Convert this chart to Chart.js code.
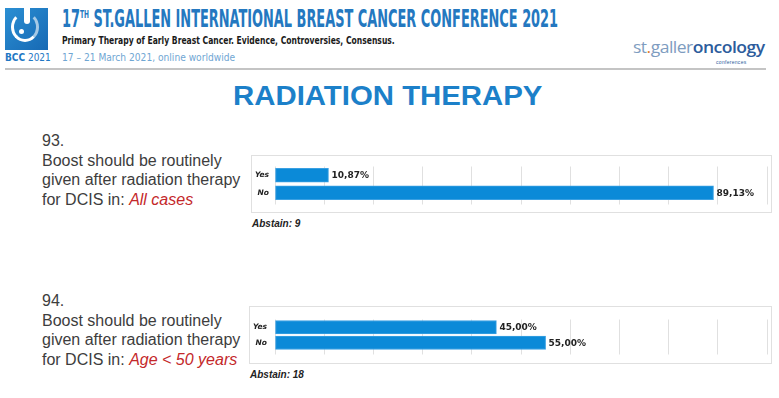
<!DOCTYPE html>
<html>
<head>
<meta charset="utf-8">
<script src="https://cdn.jsdelivr.net/npm/chart.js@4"></script>
<style>
  body { margin: 0; width: 779px; height: 398px; background: #fff; position: relative; overflow: hidden;
         font-family: 'Liberation Sans', Arial, sans-serif; }
  .abs { position: absolute; white-space: nowrap; }
  .cond { font-family: 'DejaVu Sans Condensed', 'DejaVu Sans', sans-serif; font-stretch: condensed; }
  .box { position: absolute; border: 1px solid #e0e0e0; box-sizing: border-box; }
  .question { font-size: 16px; line-height: 19.5px; color: #3d3d3d; }
  .question em { color: #c4282a; }
  .abstain { font-size: 10px; font-weight: bold; font-style: italic; color: #222; }
</style>
</head>
<body>

<!-- conference header -->
<div class="abs" style="left:5px;top:8px;width:43px;height:42px;background:linear-gradient(135deg,#2b8fd3,#1769b4);overflow:hidden;">
  <div style="position:absolute;left:6px;top:4px;width:28px;height:30px;border-radius:50%;border:3px solid #fff;border-top-color:transparent;border-right-color:rgba(255,255,255,0.6);box-sizing:border-box;"></div>
  <div style="position:absolute;left:19px;top:0;width:6px;height:16px;background:#fff;border-radius:0 0 3px 3px;"></div>
  <div style="position:absolute;left:14px;top:21px;width:5px;height:5px;background:#fff;border-radius:50%;"></div>
</div>
<div class="abs cond" style="left:5px;top:52px;font-size:10px;color:#1f78c4;"><b>BCC</b> 2021</div>

<div class="abs cond fit" data-w="496" style="left:62px;top:5px;font-size:24px;font-weight:bold;color:#2478c0;">17<sup style="font-size:11px;">TH</sup> ST.GALLEN INTERNATIONAL BREAST CANCER CONFERENCE 2021</div>
<div class="abs cond fit" data-w="333" style="left:62px;top:34px;font-size:11px;font-weight:bold;color:#1a1a1a;">Primary Therapy of Early Breast Cancer. Evidence, Controversies, Consensus.</div>
<div class="abs cond fit" data-w="173" style="left:62px;top:51px;font-size:11px;color:#6fa6d3;">17 – 21 March 2021, online worldwide</div>

<div class="abs fit" data-w="132" style="left:633px;top:38px;line-height:17px;font-family:'Open Sans',sans-serif;font-size:17px;letter-spacing:-0.5px;"><span style="color:#7e9cc0;">st</span><span style="color:#e07a2a;">.</span><span style="color:#7e9cc0;">galler</span><span style="color:#2c5c9c;font-weight:600;">oncology</span></div>
<div class="abs" style="left:716px;top:60px;font-size:5px;line-height:5px;color:#2c5c9c;letter-spacing:0.3px;">conferences</div>

<div class="abs" style="left:5px;top:68px;width:761px;height:2px;background:#c4c4c4;"></div>

<div class="abs fit" data-w="310" style="left:233px;top:81px;font-size:27px;font-weight:bold;color:#1c80c9;">RADIATION THERAPY</div>

<!-- question 93 -->
<div class="abs question" style="left:42px;top:131px;">93.<br>Boost should be routinely<br>given after radiation therapy<br>for DCIS in: <em>All cases</em></div>
<div class="box" style="left:251px;top:155px;width:521px;height:58px;"><canvas id="q93"></canvas></div>
<div class="abs abstain" style="left:252px;top:218px;">Abstain: 9</div>

<!-- question 94 -->
<div class="abs question" style="left:42px;top:291px;">94.<br>Boost should be routinely<br>given after radiation therapy<br>for DCIS in: <em>Age &lt; 50 years</em></div>
<div class="box" style="left:249px;top:306px;width:523px;height:58px;"><canvas id="q94"></canvas></div>
<div class="abs abstain" style="left:250px;top:369px;">Abstain: 18</div>

<script>
// answers and vote shares (%) per question
const answers   = ['Yes', 'No'];
const q93Values = [10.87, 89.13];
const q94Values = [45.00, 55.00];
const axisMax   = 100;
const axisStep  = 10;

const BAR_BLUE   = '#0b8ad8';
const BAR_EDGE   = '#3aa0e2';
const GRID_COLOR = '#e0e0e0';

// squeeze header texts to the width they have in the slide
document.querySelectorAll('.fit').forEach(el => {
  const w = +el.dataset.w;
  el.style.transformOrigin = 'left top';
  el.style.transform = `scaleX(${w / el.scrollWidth})`;
});

// percentage text right of each bar, comma decimals like the slide
const valueLabels = {
  id: 'valueLabels',
  afterDatasetsDraw(chart) {
    const ctx = chart.ctx;
    ctx.save();
    ctx.font = 'bold 9px "DejaVu Sans", sans-serif';
    ctx.fillStyle = '#222';
    ctx.textBaseline = 'middle';
    chart.getDatasetMeta(0).data.forEach((bar, i) => {
      const v = chart.data.datasets[0].data[i];
      ctx.fillText(v.toFixed(2).replace('.', ',') + '%', bar.x + 3, bar.y + 0.5);
    });
    ctx.restore();
  }
};

function renderPoll(canvasId, values, opts) {
  return new Chart(document.getElementById(canvasId), {
    type: 'bar',
    data: {
      labels: answers,
      datasets: [{
        data: values,
        backgroundColor: BAR_BLUE,
        borderColor: BAR_EDGE,
        borderWidth: 1,
        borderSkipped: false,
        barThickness: opts.barThickness,
      }]
    },
    options: {
      indexAxis: 'y',
      responsive: true,
      maintainAspectRatio: false,
      animation: false,
      layout: { padding: { top: opts.padTop, right: 4, bottom: opts.padBottom, left: 0 } },
      plugins: { legend: { display: false }, tooltip: { enabled: false } },
      scales: {
        x: {
          min: 0,
          max: axisMax,
          ticks: { display: false, stepSize: axisStep },
          grid: { color: GRID_COLOR, lineWidth: 1, drawTicks: true, tickLength: opts.tickLength },
          border: { display: false }
        },
        y: {
          grid: { display: false, drawTicks: false },
          border: { display: false },
          ticks: {
            color: '#222',
            padding: opts.axisWidth - 17,
            font: { family: 'DejaVu Sans, sans-serif', size: 7.5, weight: 'bold', style: 'italic' }
          },
          afterFit: s => { s.width = opts.axisWidth; }
        }
      }
    },
    plugins: [valueLabels]
  });
}

renderPoll('q93', q93Values, { axisWidth: 23, padTop: 6, padBottom: 0, tickLength: 3, barThickness: 14 });
renderPoll('q94', q94Values, { axisWidth: 25, padTop: 4, padBottom: 1, tickLength: 4, barThickness: 13.5 });
</script>
</body>
</html>
